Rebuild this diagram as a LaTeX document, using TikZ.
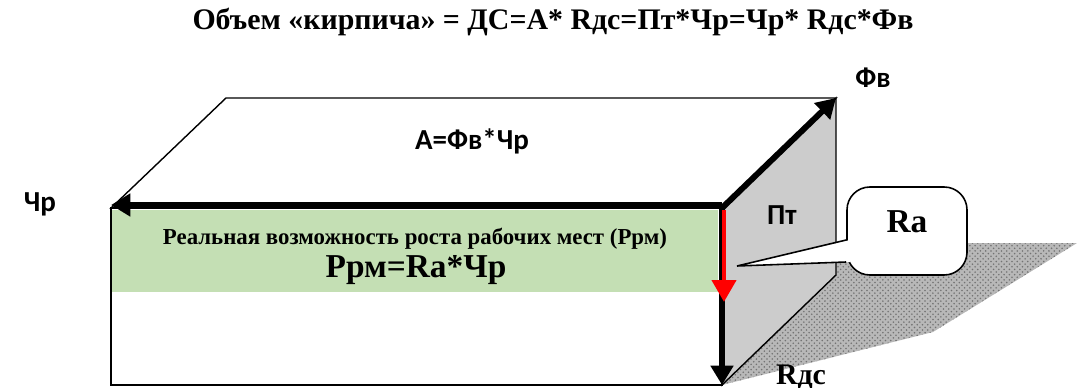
\documentclass[tikz,border=0pt]{standalone}
\usepackage{fontspec}
\setmainfont{Liberation Serif}
\newfontfamily\calfont{Carlito}
\usetikzlibrary{arrows.meta,patterns}
\definecolor{bandgreen}{HTML}{C4DFB4}
\definecolor{facegray}{HTML}{CCCCCC}
\tikzset{
  edge/.style={line width=0.8pt,black},
  vec/.style={line width=3.4pt,-{Triangle[length=11pt,width=12.5pt]}},
  lbl/.style={font=\calfont\bfseries\fontsize{16.5}{18}\selectfont},
  tlbl/.style={font=\bfseries\fontsize{17}{19}\selectfont}
}
\begin{document}
\begin{tikzpicture}[x=0.02cm,y=-0.02cm]
 \useasboundingbox (0,0) rectangle (1077,388);
 % corners of the brick
 \coordinate (fl) at (111,208); \coordinate (fr) at (722,208);
 \coordinate (bl) at (226,98);  \coordinate (br) at (836,98);
 \coordinate (dl) at (111,385); \coordinate (dr) at (722,385);
 \coordinate (db) at (836,275);
 % shadow
 \fill[black!28] (dr)--(933,332)--(1077,243)--(836,243)--(db)--cycle;
 \fill[pattern=crosshatch dots,pattern color=black!55] (dr)--(933,332)--(1077,243)--(836,243)--(db)--cycle;
 \draw[edge,fill=facegray] (fr)--(br)--(db)--(dr)--cycle;
 \draw[edge,fill=white] (fl)--(bl)--(br)--(fr)--cycle;
 \draw[edge,fill=white] (fl) rectangle (dr);
 \fill[bandgreen] (112,210) rectangle (718,292);
 \node[tlbl,font=\bfseries\fontsize{13}{15}\selectfont] (band) at (415,239) {Реальная возможность роста рабочих мест (Ррм)};
 \node[tlbl,font=\bfseries\fontsize{19}{21}\selectfont] (rpm) at (416,270) {Ррм=Ra*Чр};
 \node[lbl] (area) at (472,141) {А=Фв*Чр};
 % edge vectors
 \draw[vec] (722,205)--(111,205);
 \draw[vec] (fr)--(br);
 \draw[vec] (fr)--(dr);
 \draw[vec,red,line width=2.8pt,-{Triangle[length=12.5pt,width=13.5pt]}] (724,210)--(724,302);
 \node[lbl] (chr) at (40,204) {Чр};
 \node[lbl] (fv) at (873,78) {Фв};
 \node[lbl] (pt) at (782,215) {Пт};
 \node[tlbl] (rds) at (801,377) {Rдс};
 % callout
 \node[draw,line width=0.9pt,fill=white,rounded corners=13pt,minimum width=120*0.02cm,minimum height=88*0.02cm] (ra) at (907,231) {};
 \node[tlbl,font=\bfseries\fontsize{19}{21}\selectfont] (ratxt) at (907,222) {Ra};
 \coordinate (tip) at (737,266);
 \fill[white] (850,240)--(tip)--(850,262)--cycle;
 \draw[line width=0.9pt] (ra.west|-0,240)--(tip)--(ra.west|-0,262);
 \node[tlbl] (title) at (553,22) {Объем «кирпича» = ДС=А* Rдс=Пт*Чр=Чр* Rдс*Фв};
\end{tikzpicture}
\end{document}
